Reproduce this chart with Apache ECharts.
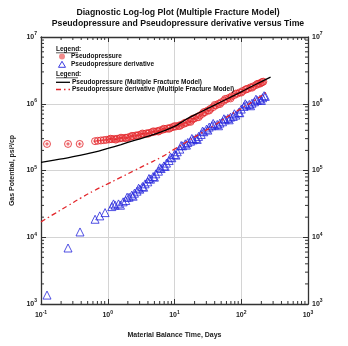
<!DOCTYPE html>
<html><head><meta charset="utf-8">
<script src="https://cdn.jsdelivr.net/npm/echarts@6/dist/echarts.min.js"></script>
<style>html,body{margin:0;padding:0;background:#fff}#c{width:348px;height:346px}</style>
</head><body><div id="c"></div>
<script>
// Pseudopressure (measured)
const ppTime = [0.123,0.254,0.38,0.645,0.71,0.79,0.87,0.95,1.05,1.15,1.26,1.38,1.51,1.66,1.82,2.0,2.19,2.4,2.63,2.88,3.16,3.47,3.8,4.17,4.57,5.0,5.5,6.0,6.6,7.2,7.9,8.7,9.5,10.5,11.5,12.6,13.8,15.1,16.6,18.2,20,21.9,24,26.3,28.8,31.6,34.7,38,41.7,45.7,50,55,60,66,72,79,87,95,105,115,126,138,151,166,182,200,214,
  1.1,1.32,1.58,1.9,2.3,2.75,3.3,4.0,4.8,5.75,6.9,8.3,10,12,14.4,17.4,19,23,27.5,33,40,48,57.5,69,83,100,120,145,174,191,207];
const ppValue = [2.5e5,2.5e5,2.5e5,2.75e5,2.79e5,2.82e5,2.85e5,2.88e5,2.92e5,2.95e5,2.97e5,2.99e5,3.02e5,3.05e5,3.09e5,3.13e5,3.2e5,3.27e5,3.35e5,3.4e5,3.47e5,3.53e5,3.6e5,3.66e5,3.73e5,3.8e5,3.89e5,3.98e5,4.07e5,4.17e5,4.27e5,4.37e5,4.47e5,4.57e5,4.68e5,4.84e5,5.01e5,5.19e5,5.43e5,5.75e5,6.03e5,6.31e5,6.68e5,7.08e5,7.5e5,7.94e5,8.41e5,8.91e5,9.44e5,1.0e6,1.05e6,1.11e6,1.17e6,1.23e6,1.29e6,1.35e6,1.41e6,1.48e6,1.55e6,1.62e6,1.68e6,1.76e6,1.82e6,1.9e6,2.0e6,2.07e6,2.14e6,
  2.99e5,2.9e5,3.1e5,3.05e5,3.3e5,3.3e5,3.58e5,3.55e5,3.86e5,3.84e5,4.22e5,4.22e5,4.62e5,4.65e5,5.2e5,5.35e5,6.0e5,6.3e5,7.5e5,7.9e5,9.6e5,9.9e5,1.18e6,1.2e6,1.42e6,1.47e6,1.66e6,1.74e6,1.98e6,2.0e6,2.12e6];
// Pseudopressure derivative (measured)
const pdTime = [0.123,0.254,0.384,0.646,0.759,0.912,1.15,1.29,1.45,1.70,1.86,2.09,2.29,2.51,2.75,3.02,3.31,3.63,3.98,4.37,4.79,5.25,5.75,6.31,6.92,7.59,8.32,9.12,10.0,11.0,12.0,13.2,14.5,15.8,17.4,19.1,20.9,22.9,25.1,27.5,30.2,33.1,36.3,39.8,43.7,47.9,52.5,57.5,63.1,69.2,75.9,83.2,91.2,100,110,120,132,145,158,174,191,209,229,
  1.22,1.55,1.95,2.4,2.9,3.45,4.15,5.0,6.0,7.25,8.7,10.5,12.6,15.1,18.2,21.9,26.3,31.6,38,45.7,55,66,79,95,115,138,166,200,220];
const pdValue = [1.36e3,6.9e3,1.2e4,1.86e4,2.09e4,2.34e4,2.88e4,3.02e4,3.16e4,3.39e4,3.55e4,3.98e4,4.27e4,4.57e4,4.90e4,5.25e4,5.75e4,6.31e4,6.76e4,7.41e4,8.13e4,8.91e4,9.77e4,1.07e5,1.17e5,1.29e5,1.41e5,1.55e5,1.74e5,1.91e5,2.09e5,2.34e5,2.51e5,2.63e5,2.75e5,2.88e5,3.02e5,3.24e5,3.47e5,3.80e5,4.17e5,4.47e5,4.68e5,4.79e5,4.90e5,5.13e5,5.37e5,5.75e5,6.03e5,6.31e5,6.46e5,6.76e5,7.41e5,8.32e5,9.12e5,9.55e5,9.77e5,1.02e6,1.07e6,1.12e6,1.17e6,1.23e6,1.29e6,
  3.16e4,3.02e4,3.98e4,4.12e4,5.43e4,5.62e4,7.59e4,7.94e4,1.10e5,1.15e5,1.58e5,1.70e5,2.37e5,2.40e5,3.02e5,2.92e5,3.89e5,4.03e5,5.07e5,4.68e5,5.96e5,5.75e5,7.08e5,7.33e5,1.0e6,9.33e5,1.17e6,1.12e6,1.32e6];
// Model: pseudopressure
const mpTime = [0.1,0.158,0.251,0.398,0.631,1.0,1.585,2.512,3.981,6.31,10,12.6,15.8,25.1,39.8,63.1,100,158,275];
const mpValue = [1.32e5,1.43e5,1.55e5,1.70e5,1.88e5,2.14e5,2.45e5,2.82e5,3.24e5,3.80e5,4.57e5,5.25e5,6.03e5,7.59e5,9.55e5,1.20e6,1.51e6,1.91e6,2.51e6];
// Model: pseudopressure derivative
const mdTime = [0.1,0.158,0.251,0.398,0.631,1.0,1.585,2.512,3.981,6.31,10,15.8,25.1,39.8,63.1,100,158,245];
const mdValue = [1.70e4,2.24e4,2.95e4,3.89e4,5.01e4,6.31e4,7.94e4,1.0e5,1.26e5,1.58e5,2.09e5,2.75e5,3.63e5,4.79e5,6.46e5,8.51e5,1.12e6,1.51e6];
// Axis ranges and minor tick values
const xMin = 0.1, xMax = 1000, yMin = 1e3, yMax = 1e7;
const minorMult = [2,3,4,5,6,7,8,9];
const xDecades = [0.1,1,10,100];
const yDecades = [1e3,1e4,1e5,1e6];
const seriesNames = ['Pseudopressure','Pseudopressure derivative','Pseudopressure (Multiple Fracture Model)','Pseudopressure derivative (Multiple Fracture Model)'];

const zip = (a,b) => a.map((v,i) => [v,b[i]]);
const minorData = [];
xDecades.forEach(d => minorMult.forEach(m => minorData.push([d*m, yMin, 0])));
yDecades.forEach(d => minorMult.forEach(m => minorData.push([xMin, d*m, 1])));

const FONT = '"Liberation Sans", Arial, sans-serif';
const AX = '#333';
const RED = '#e3262b', BLUE = '#2525dc';
const supFmt = v => '{b|10}{s|' + Math.round(Math.log10(v)) + '}';
const labRich = {
  b: {fontSize: 7, fontWeight: 'bold', color: '#222', fontFamily: FONT},
  s: {fontSize: 5, fontWeight: 'bold', color: '#222', fontFamily: FONT, padding: [0,0,6,0]}
};
const baseAxis = {
  type: 'log', logBase: 10,
  axisLine: {show: true, onZero: false, lineStyle: {color: AX, width: 1.3}},
  axisTick: {show: true, inside: true, length: 5, lineStyle: {color: AX, width: 1}},
  minorTick: {show: false},
  splitLine: {show: false}
};
const legFont = 'bold 6.5px ' + FONT;
const txt = (x, y, s) => ({type: 'text', x: x, y: y, style: {text: s, font: legFont, fill: '#111', verticalAlign: 'middle'}, z: 100});
const chart = echarts.init(document.getElementById('c'), null, {renderer: 'canvas'});
chart.setOption({
  animation: false,
  backgroundColor: '#fff',
  title: {
    text: 'Diagnostic Log-log Plot (Multiple Fracture Model)\nPseudopressure and Pseudopressure derivative versus Time',
    left: 173, top: 2, textAlign: 'center',
    textStyle: {fontSize: 8.7, fontWeight: 'bold', color: '#111', fontFamily: FONT, lineHeight: 11}
  },
  grid: {left: 41, right: 40, top: 37, height: 267, containLabel: false},
  xAxis: [
    Object.assign({}, baseAxis, {
      position: 'bottom', min: xMin, max: xMax, interval: 1,
      name: 'Material Balance Time, Days', nameLocation: 'middle', nameGap: 28,
      nameTextStyle: {fontSize: 7, fontWeight: 'bold', color: '#222', fontFamily: FONT},
      axisLabel: {show: true, margin: 6, formatter: supFmt, rich: labRich},
      splitLine: {show: true, lineStyle: {color: '#d4d4d4', width: 1}}
    }),
    Object.assign({}, baseAxis, {
      position: 'top', min: xMin, max: xMax, interval: 1,
      axisLabel: {show: false}
    })
  ],
  yAxis: [
    Object.assign({}, baseAxis, {
      position: 'left', min: yMin, max: yMax, interval: 1,
      name: 'Gas Potential, psi²/cp', nameLocation: 'middle', nameGap: 24, nameRotate: 90,
      nameTextStyle: {fontSize: 7, fontWeight: 'bold', color: '#222', fontFamily: FONT},
      axisLabel: {show: true, margin: 4, formatter: supFmt, rich: labRich},
      splitLine: {show: true, lineStyle: {color: '#d4d4d4', width: 1}}
    }),
    Object.assign({}, baseAxis, {
      position: 'right', min: yMin, max: yMax, interval: 1,
      axisLabel: {show: true, margin: 4, formatter: supFmt, rich: labRich}
    })
  ],
  graphic: [
    txt(56, 49.5, 'Legend:'),
    {type: 'line', shape: {x1: 56, y1: 52.8, x2: 78, y2: 52.8}, style: {stroke: '#111', lineWidth: 0.7}, z: 100},
    {type: 'circle', shape: {cx: 62, cy: 56.5, r: 3}, style: {fill: '#f28b8b'}, z: 100},
    txt(71, 56.5, seriesNames[0]),
    {type: 'polygon', shape: {points: [[62, 61.3], [65.5, 67.3], [58.5, 67.3]]}, style: {fill: '#fff', stroke: BLUE, lineWidth: 0.9}, z: 100},
    txt(71, 64.5, seriesNames[1]),
    txt(56, 74.5, 'Legend:'),
    {type: 'line', shape: {x1: 56, y1: 77.8, x2: 78, y2: 77.8}, style: {stroke: '#111', lineWidth: 0.7}, z: 100},
    {type: 'line', shape: {x1: 56, y1: 82.3, x2: 70, y2: 82.3}, style: {stroke: '#000', lineWidth: 1.3}, z: 100},
    txt(72, 82.3, seriesNames[2]),
    {type: 'line', shape: {x1: 56, y1: 89.5, x2: 70, y2: 89.5}, style: {stroke: RED, lineWidth: 1.3, lineDash: [5, 3, 1.5, 3]}, z: 100},
    txt(72, 89.5, seriesNames[3])
  ],
  series: [
    {
      type: 'custom', name: 'minorTicks', silent: true, clip: false, z: 5,
      data: minorData,
      renderItem: function (params, api) {
        const v0 = api.value(0), v1 = api.value(1), kind = api.value(2);
        const L = 3;
        const st = {stroke: AX, lineWidth: 1};
        if (kind === 0) {
          const p = api.coord([v0, yMin]), q = api.coord([v0, yMax]);
          return {type: 'group', children: [
            {type: 'line', shape: {x1: p[0], y1: p[1], x2: p[0], y2: p[1] - L}, style: st},
            {type: 'line', shape: {x1: q[0], y1: q[1], x2: q[0], y2: q[1] + L}, style: st}
          ]};
        }
        const p = api.coord([xMin, v1]), q = api.coord([xMax, v1]);
        return {type: 'group', children: [
          {type: 'line', shape: {x1: p[0], y1: p[1], x2: p[0] + L, y2: p[1]}, style: st},
          {type: 'line', shape: {x1: q[0], y1: q[1], x2: q[0] - L, y2: q[1]}, style: st}
        ]};
      }
    },
    {
      type: 'scatter', name: seriesNames[0], data: zip(ppTime, ppValue),
      symbol: 'path://M0,10A10,10,0,1,1,20,10A10,10,0,1,1,0,10ZM10,5L10,15M5,10L15,10',
      symbolSize: 7,
      itemStyle: {color: 'rgba(255,170,170,0.15)', borderColor: RED, borderWidth: 1}
    },
    {
      type: 'scatter', name: seriesNames[1], data: zip(pdTime, pdValue),
      symbol: 'triangle', symbolSize: 8,
      itemStyle: {color: 'rgba(255,255,255,0)', borderColor: BLUE, borderWidth: 1}
    },
    {
      type: 'line', name: seriesNames[2], data: zip(mpTime, mpValue),
      smooth: true, symbol: 'none', z: 4,
      lineStyle: {color: '#000', width: 1.3}
    },
    {
      type: 'line', name: seriesNames[3], data: zip(mdTime, mdValue),
      smooth: true, symbol: 'none', z: 4,
      lineStyle: {color: RED, width: 1.3, type: [5, 3, 1.5, 3]}
    }
  ]
});
</script></body></html>
